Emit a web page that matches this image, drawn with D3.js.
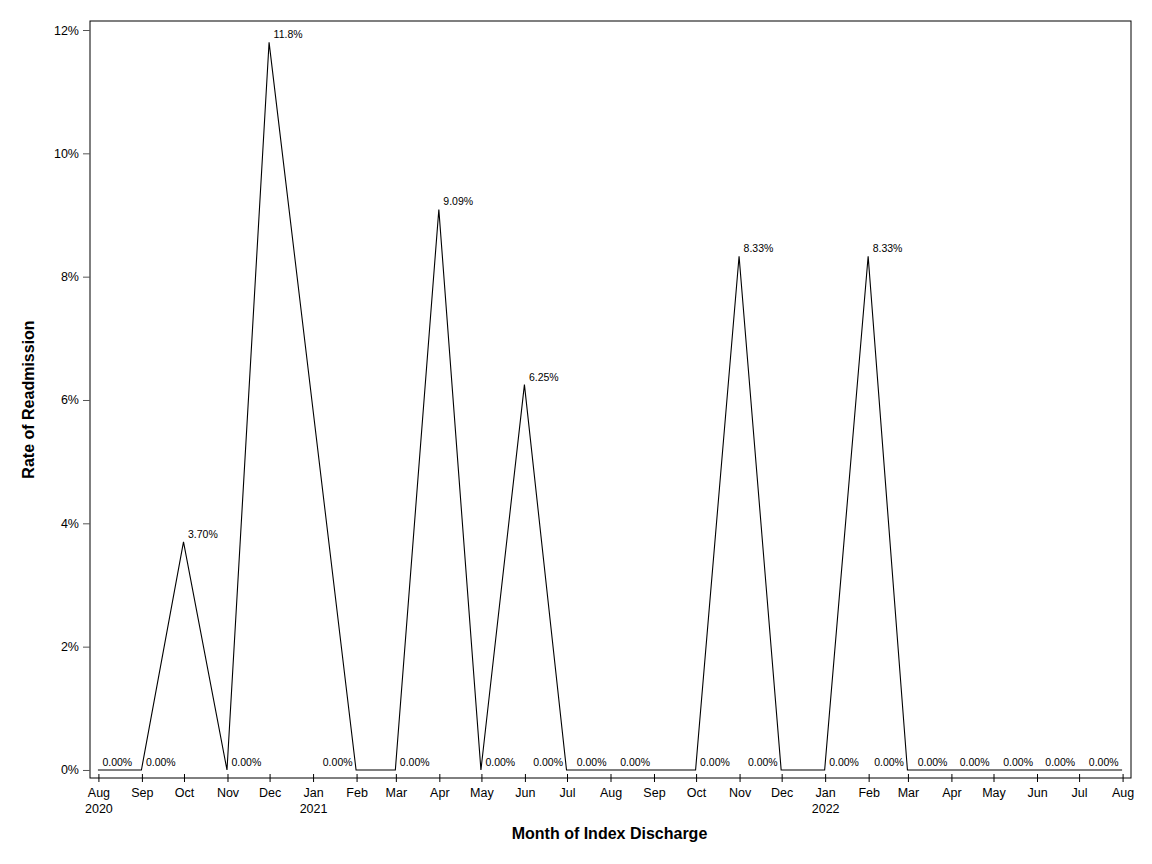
<!DOCTYPE html>
<html><head><meta charset="utf-8">
<script src="https://cdn.jsdelivr.net/npm/d3@7"></script>
<style>body{margin:0;background:#fff}svg{display:block}text{font-family:"Liberation Sans",Arial,sans-serif}</style>
</head><body><svg id="c" width="1152" height="864"></svg>
<script>
// Data
const months = ["2020-08","2020-09","2020-10","2020-11","2020-12","2021-02","2021-03","2021-04","2021-05","2021-06","2021-07","2021-08","2021-09","2021-10","2021-11","2021-12","2022-01","2022-02","2022-03","2022-04","2022-05","2022-06","2022-07","2022-08"];
const rates = [0,0,3.70,0,11.8,0,0,9.09,0,6.25,0,0,0,0,8.33,0,0,8.33,0,0,0,0,0,0];
const rateLabels = ["0.00%","0.00%","3.70%","0.00%","11.8%","0.00%","0.00%","9.09%","0.00%","6.25%","0.00%","0.00%","0.00%","0.00%","8.33%","0.00%","0.00%","8.33%","0.00%","0.00%","0.00%","0.00%","0.00%","0.00%"];
const labelSide = ["r","r","r","r","r","l","r","r","r","r","l","l","l","r","r","l","r","r","l","l","l","l","l","l"];
const yTicks = [0,2,4,6,8,10,12];
const xTickMonths = ["2020-08","2020-09","2020-10","2020-11","2020-12","2021-01","2021-02","2021-03","2021-04","2021-05","2021-06","2021-07","2021-08","2021-09","2021-10","2021-11","2021-12","2022-01","2022-02","2022-03","2022-04","2022-05","2022-06","2022-07","2022-08"];
const xTitle = "Month of Index Discharge";
const yTitle = "Rate of Readmission";

const parse = d3.timeParse("%Y-%m");
const svg = d3.select("#c");
const L=90, R=1131, T=21, B=778;

const x = d3.scaleTime()
  .domain([d3.timeDay.offset(parse("2020-08"),-5.7), d3.timeDay.offset(parse("2022-08"),6.4)])
  .range([L,R]);
const y = d3.scaleLinear().domain([-0.13,12.146]).range([B,T]);

// frame
svg.append("rect").attr("x",L).attr("y",T).attr("width",R-L).attr("height",B-T)
  .attr("fill","none").attr("stroke","#000").attr("stroke-width",1);

// y axis
const ya = svg.append("g").attr("transform",`translate(${L},0)`)
  .call(d3.axisLeft(y).tickValues(yTicks).tickSize(7).tickPadding(4).tickFormat(d=>d+"%"));
ya.select(".domain").remove();
ya.selectAll("line").attr("stroke","#555");
ya.selectAll("text").attr("font-size","12.5px").attr("fill","#000").attr("font-family","Liberation Sans");

// x axis
const xa = svg.append("g").attr("transform",`translate(0,${B})`)
  .call(d3.axisBottom(x).tickValues(xTickMonths.map(parse)).tickSize(4).tickFormat(""));
xa.select(".domain").remove();
xa.selectAll("line").attr("stroke","#000").attr("y1",-4);
xa.selectAll(".tick").append("text").attr("y",19).attr("text-anchor","middle")
  .attr("font-size","12.5px").attr("fill","#000").text(d=>d3.timeFormat("%b")(d));
xa.selectAll(".tick").filter((d,i)=>i===0||d.getMonth()===0).append("text")
  .attr("y",35).attr("text-anchor","middle").attr("font-size","12.5px").attr("fill","#000")
  .text(d=>d3.timeFormat("%Y")(d));

// line
const pts = months.map((m,i)=>({d:parse(m),v:rates[i],lab:rateLabels[i],side:labelSide[i]}));
svg.append("path").datum(pts)
  .attr("d",d3.line().x(p=>x(p.d)-0.5).y(p=>y(p.v)))
  .attr("fill","none").attr("stroke","#000").attr("stroke-width",1.1);

svg.append("g").selectAll("text").data(pts).join("text")
  .attr("x",p=>p.side==="r"?x(p.d)+4:x(p.d)-4)
  .attr("y",p=>y(p.v)-4)
  .attr("text-anchor",p=>p.side==="r"?"start":"end")
  .attr("font-size","10.5px").attr("fill","#000").text(p=>p.lab);

// titles
svg.append("text").attr("x",609.5).attr("y",839).attr("text-anchor","middle")
  .attr("font-size","16px").attr("font-weight","bold").text(xTitle);
svg.append("text").attr("transform",`translate(34,${(T+B)/2}) rotate(-90)`).attr("text-anchor","middle")
  .attr("font-size","16px").attr("font-weight","bold").text(yTitle);
</script></body></html>
